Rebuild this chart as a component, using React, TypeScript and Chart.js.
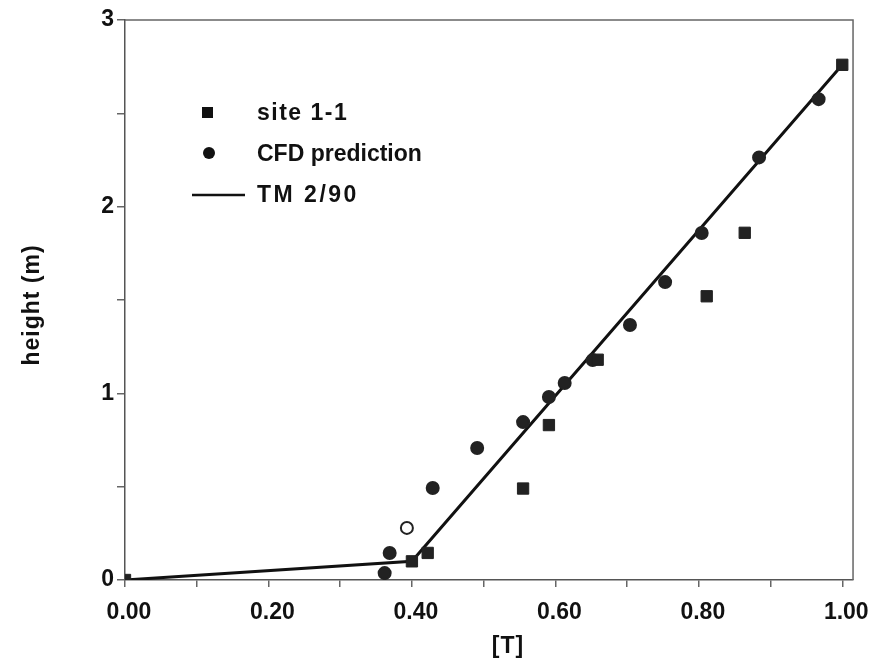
import React, { useEffect, useRef } from "react";
import { Chart, registerables } from "chart.js";

Chart.register(...registerables);

// site 1-1 measurements: [T] values and heights (m)
const siteX = [0.0, 0.4, 0.422, 0.555, 0.591, 0.659, 0.811, 0.864, 1.0];
const siteY = [0.0, 0.1, 0.145, 0.49, 0.83, 1.18, 1.52, 1.86, 2.76];

// CFD prediction
const cfdX = [0.362, 0.369, 0.393, 0.429, 0.491, 0.555, 0.591, 0.613, 0.652, 0.704, 0.753, 0.804, 0.884, 0.967];
const cfdY = [0.037, 0.145, 0.279, 0.493, 0.707, 0.846, 0.98, 1.055, 1.178, 1.366, 1.596, 1.859, 2.264, 2.576];

// TM 2/90 line
const tmX = [0.0, 0.4, 1.0];
const tmY = [0.0, 0.1, 2.76];

// tick positions
const xTicks = [0, 0.1, 0.2, 0.3, 0.4, 0.5, 0.6, 0.7, 0.8, 0.9, 1.0];
const xLabelTicks = [0, 0.2, 0.4, 0.6, 0.8, 1.0];
const yTicks = [0, 0.5, 1, 1.5, 2, 2.5, 3];
const yLabelTicks = [0, 1, 2, 3];

const legendLabels = ["site 1-1", "CFD prediction", "TM 2/90"];
const xTitle = "[T]";
const yTitle = "height (m)";

const FONT = '"Liberation Sans", Arial, sans-serif';

const isIn = (arr: number[], v: number) => arr.some((a) => Math.abs(a - v) < 1e-6);

const framePlugin = {
  id: "frame",
  beforeDatasetsDraw(chart: any) {
    const { ctx, chartArea } = chart;
    ctx.save();
    ctx.strokeStyle = "#666";
    ctx.lineWidth = 1.5;
    ctx.beginPath();
    ctx.moveTo(chartArea.left, chartArea.top);
    ctx.lineTo(chartArea.right, chartArea.top);
    ctx.lineTo(chartArea.right, chartArea.bottom);
    ctx.stroke();
    ctx.restore();
  },
};

const textPlugin = {
  id: "texts",
  afterDraw(chart: any) {
    const { ctx } = chart;
    ctx.save();
    ctx.fillStyle = "#111";
    ctx.strokeStyle = "#111";
    // legend markers
    ctx.fillRect(202, 107, 11, 11);
    ctx.beginPath();
    ctx.arc(209, 153, 6, 0, Math.PI * 2);
    ctx.fill();
    ctx.lineWidth = 2.5;
    ctx.beginPath();
    ctx.moveTo(192, 195);
    ctx.lineTo(245, 195);
    ctx.stroke();
    // legend text
    ctx.font = `bold 23px ${FONT}`;
    ctx.textBaseline = "middle";
    ctx.textAlign = "left";
    (ctx as any).letterSpacing = "1.5px";
    ctx.fillText(legendLabels[0], 257, 114);
    (ctx as any).letterSpacing = "0px";
    ctx.fillText(legendLabels[1], 257, 155);
    (ctx as any).letterSpacing = "2.5px";
    ctx.fillText(legendLabels[2], 257, 196);
    // axis titles
    (ctx as any).letterSpacing = "1px";
    ctx.textAlign = "center";
    ctx.fillText(xTitle, 508, 647);
    ctx.translate(33, 305);
    ctx.rotate(-Math.PI / 2);
    ctx.fillText(yTitle, 0, 0);
    ctx.restore();
  },
};

export default function App() {
  const ref = useRef<HTMLCanvasElement>(null);

  useEffect(() => {
    if (!ref.current) return;
    const chart = new Chart(ref.current, {
      type: "scatter",
      data: {
        datasets: [
          {
            label: legendLabels[2],
            type: "line",
            data: tmX.map((x, i) => ({ x, y: tmY[i] })),
            borderColor: "#111",
            borderWidth: 3,
            pointRadius: 0,
            showLine: true,
            fill: false,
            tension: 0,
            order: 3,
          } as any,
          {
            label: legendLabels[1],
            data: cfdX.map((x, i) => ({ x, y: cfdY[i] })),
            pointStyle: "circle",
            pointRadius: 6,
            pointBackgroundColor: cfdX.map((_, i) => (i === 2 ? "#fff" : "#222")),
            pointBorderColor: "#222",
            pointBorderWidth: 2,
            order: 2,
          },
          {
            label: legendLabels[0],
            data: siteX.map((x, i) => ({ x, y: siteY[i] })),
            pointStyle: "rect",
            pointRadius: 8,
            backgroundColor: "#222",
            borderColor: "#222",
            pointBorderWidth: 1,
            order: 1,
          },
        ],
      },
      options: {
        responsive: false,
        animation: false,
        devicePixelRatio: 1,
        layout: { padding: { top: 20, right: 23, left: 0, bottom: 0 } },
        plugins: {
          legend: { display: false },
          tooltip: { enabled: false },
        },
        scales: {
          x: {
            type: "linear",
            position: "bottom",
            min: 0,
            max: 1.015,
            afterFit(scale: any) {
              scale.height = 82;
            },
            afterBuildTicks(scale: any) {
              scale.ticks = xTicks.map((value) => ({ value }));
            },
            ticks: {
              autoSkip: false,
              maxRotation: 0,
              padding: 12,
              labelOffset: 4,
              color: "#111",
              font: { family: FONT, size: 23, weight: "bold" },
              callback: (v: any) => (isIn(xLabelTicks, Number(v)) ? Number(v).toFixed(2) : ""),
            },
            grid: {
              display: true,
              drawOnChartArea: false,
              drawTicks: true,
              tickLength: 7,
              color: "#666",
              lineWidth: 1.5,
            },
            border: { display: true, color: "#555", width: 1.5 },
          },
          y: {
            type: "linear",
            min: 0,
            max: 3,
            afterFit(scale: any) {
              scale.width = 125;
            },
            afterBuildTicks(scale: any) {
              scale.ticks = yTicks.map((value) => ({ value }));
            },
            ticks: {
              padding: 3,
              color: "#111",
              font: { family: FONT, size: 23, weight: "bold" },
              callback: (v: any) => (isIn(yLabelTicks, Number(v)) ? String(Math.round(Number(v))) : ""),
            },
            grid: {
              display: true,
              drawOnChartArea: false,
              drawTicks: true,
              tickLength: 8,
              color: "#666",
              lineWidth: 1.5,
            },
            border: { display: true, color: "#555", width: 1.5 },
          },
        },
      },
      plugins: [framePlugin, textPlugin],
    });
    return () => chart.destroy();
  }, []);

  return (
    <div style={{ position: "fixed", left: 0, top: 0, width: 877, height: 662, background: "#fff" }}>
      <canvas ref={ref} width={877} height={662} style={{ width: 877, height: 662 }} />
    </div>
  );
}
